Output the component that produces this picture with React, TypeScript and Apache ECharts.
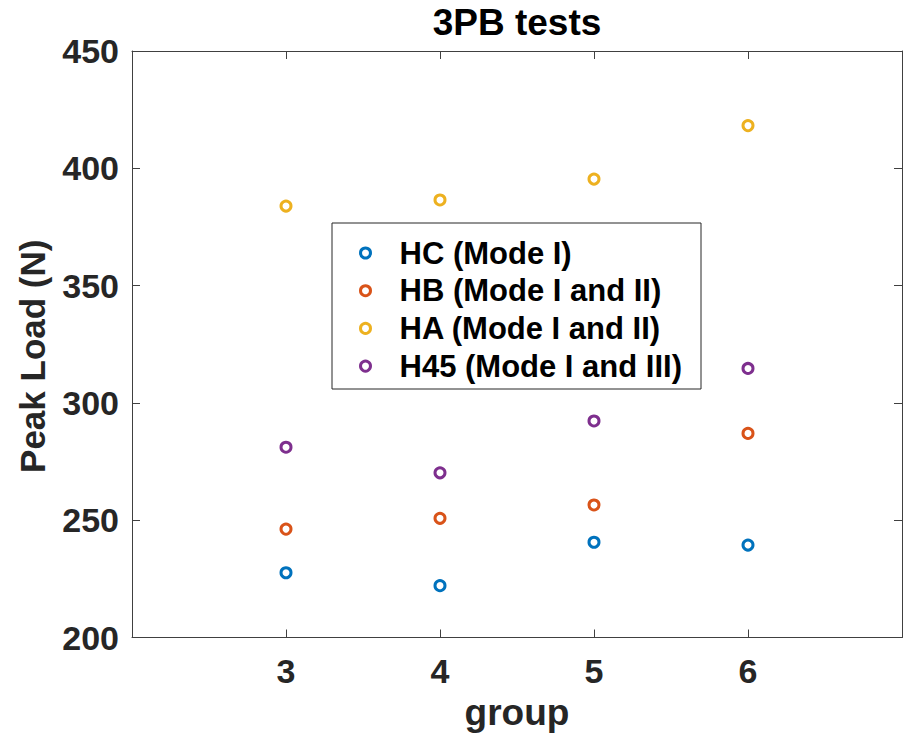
import React, { useEffect, useRef } from "react";
import * as echarts from "echarts";

const groups = [3, 4, 5, 6];
const seriesNames = [
  "HC (Mode I)",
  "HB (Mode I and II)",
  "HA (Mode I and II)",
  "H45 (Mode I and III)",
];
const hcValues = [227.6, 222.1, 240.6, 239.4];
const hbValues = [246.2, 250.8, 256.5, 287.0];
const haValues = [383.9, 386.5, 395.4, 418.2];
const h45Values = [281.1, 270.2, 292.3, 314.7];
const yTicks = [200, 250, 300, 350, 400, 450];
const xTickLabels = [3, 4, 5, 6];

const colors = ["#0072BD", "#D95319", "#EDB120", "#7E2F8E"];
const FONT = "'Liberation Sans', Arial, Helvetica, sans-serif";
const AX = "#262626";

export default function App() {
  const ref = useRef<HTMLDivElement>(null);
  useEffect(() => {
    document.body.style.margin = "0";
    if (!ref.current) return;
    const chart = echarts.init(ref.current, null, { renderer: "svg" });
    const values = [hcValues, hbValues, haValues, h45Values];
    const series = values.map((vals, i) => ({
      type: "scatter",
      name: seriesNames[i],
      xAxisIndex: 0,
      yAxisIndex: 0,
      symbol: "circle",
      symbolSize: 10,
      itemStyle: { color: "#ffffff", borderColor: colors[i], borderWidth: 3, opacity: 1 },
      emphasis: { disabled: true },
      data: groups.map((g, j) => [g, vals[j]]),
    }));
    const axisLine = { show: true, lineStyle: { color: "#404040", width: 1 } };
    const tick = { show: true, inside: true, length: 8, lineStyle: { color: "#404040", width: 1 } };
    chart.setOption({
      animation: false,
      backgroundColor: "#ffffff",
      textStyle: { fontFamily: FONT },
      title: {
        text: "3PB tests",
        left: 517,
        top: 4,
        padding: 0,
        textAlign: "center",
        textStyle: { fontFamily: FONT, fontWeight: "bold", fontSize: 37, color: "#000" },
      },
      grid: { left: 132, right: 7, top: 51, bottom: 104.5, containLabel: false },
      graphic: [
        {
          type: "rect",
          z: 0,
          shape: { x: 332, y: 223, width: 369, height: 166 },
          style: { fill: "#fff", stroke: AX, lineWidth: 1 },
        },
      ],
      legend: {
        orient: "vertical",
        left: 332,
        top: 223,
        padding: [14.5, 10, 10, 27],
        itemWidth: 10,
        itemHeight: 10,
        itemGap: 6.7,
        data: seriesNames,
        itemStyle: { borderWidth: 3 },
        textStyle: {
          fontFamily: FONT,
          fontWeight: "bold",
          fontSize: 31,
          color: "#000",
          lineHeight: 30,
          padding: [0, 0, 0, 24],
        },
      },
      xAxis: [
        {
          type: "value",
          min: 2,
          max: 7,
          interval: 1,
          position: "bottom",
          name: "group",
          nameLocation: "middle",
          nameGap: 56,
          nameTextStyle: { fontFamily: FONT, fontWeight: "bold", fontSize: 37, color: AX },
          axisLine,
          axisTick: tick,
          splitLine: { show: false },
          axisLabel: {
            margin: 16,
            fontFamily: FONT,
            fontWeight: "bold",
            fontSize: 34,
            color: AX,
            formatter: (v: number) => (xTickLabels.includes(v) ? String(v) : ""),
          },
        },
        {
          type: "value",
          min: 2,
          max: 7,
          interval: 1,
          position: "top",
          axisLine,
          axisTick: tick,
          splitLine: { show: false },
          axisLabel: { show: false },
        },
      ],
      yAxis: [
        {
          type: "value",
          min: yTicks[0],
          max: yTicks[yTicks.length - 1],
          interval: 50,
          position: "left",
          name: "Peak Load (N)",
          nameLocation: "middle",
          nameRotate: 90,
          nameGap: 82,
          nameTextStyle: {
            fontFamily: FONT,
            fontWeight: "bold",
            fontSize: 35,
            color: AX,
            padding: [0, 24, 0, 0],
          },
          axisLine,
          axisTick: tick,
          splitLine: { show: false },
          axisLabel: {
            margin: 13,
            fontFamily: FONT,
            fontWeight: "bold",
            fontSize: 34,
            color: AX,
          },
        },
        {
          type: "value",
          min: yTicks[0],
          max: yTicks[yTicks.length - 1],
          interval: 50,
          position: "right",
          axisLine,
          axisTick: tick,
          splitLine: { show: false },
          axisLabel: { show: false },
        },
      ],
      series,
    });
    return () => chart.dispose();
  }, []);
  return <div ref={ref} style={{ width: 909, height: 742 }} />;
}
